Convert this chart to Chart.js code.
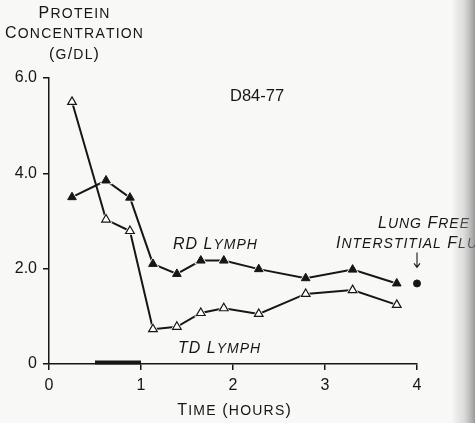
<!DOCTYPE html>
<html>
<head>
<meta charset="utf-8">
<script src="https://cdn.jsdelivr.net/npm/chart.js@4"></script>
<style>
  html, body { margin: 0; padding: 0; background: #f8f8f6; }
  #wrap { width: 475px; height: 423px; position: relative; }
</style>
</head>
<body>
<div id="wrap"><canvas id="chart" width="475" height="423"></canvas></div>
<script>
// hours after start
const times = [0.25, 0.62, 0.88, 1.13, 1.39, 1.65, 1.9, 2.28, 2.79, 3.3, 3.78];
const rdLymph = [3.5, 3.85, 3.49, 2.1, 1.89, 2.17, 2.17, 1.99, 1.8, 1.98, 1.69];
const tdLymph = [5.5, 3.03, 2.79, 0.73, 0.78, 1.07, 1.17, 1.05, 1.47, 1.55, 1.24];
const lungFluidTime = [4.0];
const lungFluid = [1.69];
const infusionTimes = [0.5, 1.0];
const yTicks = [0, 2, 4, 6];
const yTickLabels = ['0', '2.0', '4.0', '6.0'];
const xTicks = [0, 1, 2, 3, 4];

const fontFam = '"Liberation Sans", Arial, sans-serif';
const ink = '#161616';

function pts(xs, ys) {
    return xs.map((x, i) => ({ x: x, y: ys[i] }));
}

// uppercase = full cap, lowercase = small cap
function drawSmallCaps(ctx, str, x, y, big, small, italic, align, spacing) {
    const style = italic ? 'italic ' : '';
    const parts = [];
    let total = 0;
    for (const ch of str) {
        const isSmall = ch !== ch.toUpperCase();
        const size = isSmall ? small : big;
        ctx.font = style + size + 'px ' + fontFam;
        const t = ch.toUpperCase();
        const w = ctx.measureText(t).width;
        parts.push({ t: t, font: ctx.font, w: w });
        total += w + spacing;
    }
    total -= spacing;
    let cx = x;
    if (align === 'center') cx = x - total / 2;
    if (align === 'right') cx = x - total;
    ctx.textAlign = 'left';
    ctx.textBaseline = 'alphabetic';
    for (const p of parts) {
        ctx.font = p.font;
        ctx.fillText(p.t, cx, y);
        cx += p.w + spacing;
    }
}

const labelsPlugin = {
    id: 'labels',
    afterDraw(chart) {
        const ctx = chart.ctx;
        const xs = chart.scales.x;
        const ys = chart.scales.y;
        ctx.save();
        ctx.fillStyle = ink;
        drawSmallCaps(ctx, 'Protein', 74, 18, 16, 14, false, 'center', 1.2);
        drawSmallCaps(ctx, 'Concentration', 74, 38, 16, 14, false, 'center', 1.2);
        drawSmallCaps(ctx, '(g/dl)', 74, 59, 16, 14, false, 'center', 1.2);
        drawSmallCaps(ctx, 'Time (hours)', 234, 415, 16, 14, false, 'center', 1.2);
        ctx.font = '16.5px ' + fontFam;
        ctx.fillText('D84-77', 230, 101);
        drawSmallCaps(ctx, 'RD Lymph', 173, 249, 16, 14, true, 'left', 1);
        drawSmallCaps(ctx, 'TD Lymph', 178, 353, 16, 14, true, 'left', 1);
        drawSmallCaps(ctx, 'Lung Free', 378, 228, 16, 14, true, 'left', 1);
        drawSmallCaps(ctx, 'Interstitial Fluid', 336, 248, 16, 14, true, 'left', 1);
        // arrow down to the lung fluid dot
        const ax = xs.getPixelForValue(lungFluidTime[0]);
        const tip = ys.getPixelForValue(lungFluid[0]) - 16;
        ctx.strokeStyle = ink;
        ctx.lineWidth = 1.1;
        ctx.beginPath();
        ctx.moveTo(ax, tip - 15);
        ctx.lineTo(ax, tip);
        ctx.moveTo(ax - 3, tip - 4);
        ctx.lineTo(ax, tip);
        ctx.lineTo(ax + 3, tip - 4);
        ctx.stroke();
        // page gutter shading on the right edge
        const g = ctx.createLinearGradient(452, 0, 475, 0);
        g.addColorStop(0, 'rgba(150,150,150,0)');
        g.addColorStop(0.5, 'rgba(170,170,170,0.35)');
        g.addColorStop(1, 'rgba(120,120,120,0.75)');
        ctx.fillStyle = g;
        ctx.fillRect(452, 0, 23, 423);
        ctx.restore();
    }
};

const data = {
    datasets: [
        {
            // RD line
            data: pts(times, rdLymph),
            showLine: true,
            borderColor: ink,
            borderWidth: 2,
            pointRadius: 0,
            order: 5
        },
        {
            // TD line
            data: pts(times, tdLymph),
            showLine: true,
            borderColor: ink,
            borderWidth: 2,
            pointRadius: 0,
            order: 5
        },
        {
            // white halos that break the lines at each marker
            data: pts(times, rdLymph).concat(pts(times, tdLymph)),
            showLine: false,
            pointStyle: 'triangle',
            pointRadius: 7.5,
            backgroundColor: '#f8f8f6',
            borderColor: '#f8f8f6',
            borderWidth: 0,
            order: 4
        },
        {
            data: pts(times, rdLymph),
            showLine: false,
            pointStyle: 'triangle',
            pointRadius: 5,
            backgroundColor: ink,
            borderColor: ink,
            borderWidth: 1,
            order: 1
        },
        {
            data: pts(times, tdLymph),
            showLine: false,
            pointStyle: 'triangle',
            pointRadius: 5,
            backgroundColor: '#ffffff',
            borderColor: ink,
            borderWidth: 1.2,
            order: 1
        },
        {
            // lung free interstitial fluid
            data: pts(lungFluidTime, lungFluid),
            showLine: false,
            pointStyle: 'circle',
            pointRadius: 3.5,
            backgroundColor: ink,
            borderColor: ink,
            order: 1
        },
        {
            // infusion period bar on the time axis
            data: pts(infusionTimes, [0.03, 0.03]),
            showLine: true,
            borderColor: ink,
            borderWidth: 4,
            borderCapStyle: 'butt',
            pointRadius: 0,
            order: 2
        }
    ]
};

const options = {
    responsive: false,
    animation: false,
    clip: false,
    layout: { padding: { top: 78, right: 58, left: 0, bottom: 0 } },
    plugins: {
        legend: { display: false },
        tooltip: { enabled: false }
    },
    scales: {
        x: {
            type: 'linear',
            min: 0,
            max: 4,
            afterBuildTicks: (s) => { s.ticks = xTicks.map(v => ({ value: v })); },
            afterFit: (s) => { s.height = 59; },
            border: { display: true, color: ink, width: 1.5 },
            grid: { drawOnChartArea: false, drawTicks: true, tickLength: 6, color: ink, lineWidth: 1.5 },
            ticks: { color: ink, padding: 6, font: { family: fontFam, size: 16 }, maxRotation: 0 }
        },
        y: {
            min: 0,
            max: 6,
            afterBuildTicks: (s) => { s.ticks = yTicks.map(v => ({ value: v })); },
            afterFit: (s) => { s.width = 49; },
            border: { display: true, color: ink, width: 1.5 },
            grid: { drawOnChartArea: false, drawTicks: true, tickLength: 6, color: ink, lineWidth: 1.5 },
            ticks: {
                color: ink,
                padding: 6,
                font: { family: fontFam, size: 16 },
                callback: (v) => yTickLabels[yTicks.indexOf(v)]
            }
        }
    }
};

const chart = new Chart(document.getElementById('chart'), {
    type: 'scatter',
    data: data,
    options: options,
    plugins: [labelsPlugin]
});
</script>
</body>
</html>
